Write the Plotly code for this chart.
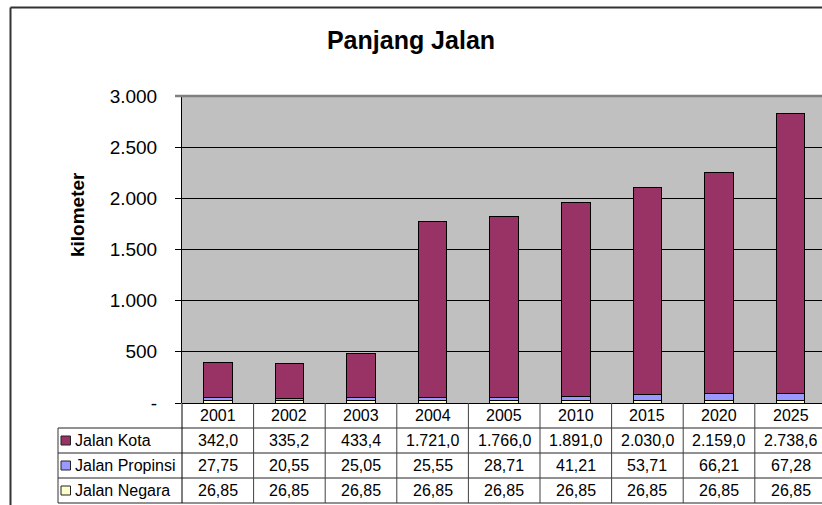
import plotly.graph_objects as go

# --- data -------------------------------------------------------------
years = ["2001", "2002", "2003", "2004", "2005", "2010", "2015", "2020", "2025"]
jalan_kota = [342.0, 335.2, 433.4, 1721.0, 1766.0, 1891.0, 2030.0, 2159.0, 2738.6]
jalan_propinsi = [27.75, 20.55, 25.05, 25.55, 28.71, 41.21, 53.71, 66.21, 67.28]
jalan_negara = [26.85, 26.85, 26.85, 26.85, 26.85, 26.85, 26.85, 26.85, 26.85]

series_names = ["Jalan Kota", "Jalan Propinsi", "Jalan Negara"]
series_values = [jalan_kota, jalan_propinsi, jalan_negara]
series_decimals = [1, 2, 2]
series_colors = ["#993366", "#9999FF", "#FFFFCC"]

y_tickvals = [0, 500, 1000, 1500, 2000, 2500, 3000]
y_ticktext = ["-", "500", "1.000", "1.500", "2.000", "2.500", "3.000"]

# --- geometry ---------------------------------------------------------
W, H = 822, 505
ML, MT, MB = 182, 96, 102
PW, PH = W - ML, H - MT - MB
COL_W = 71.6
X_MAX = -0.5 + PW / COL_W
ROW_H = 25
FONT = "Liberation Sans, Arial, sans-serif"


def px_x(px):
    return (px - ML) / PW


def px_y(py):
    return (H - MB - py) / PH


def col_edge(k):
    # paper x of the boundary left of category k
    return k / (X_MAX + 0.5)


def id_num(v, dec):
    s = f"{v:,.{dec}f}"
    return s.replace(",", "#").replace(".", ",").replace("#", ".")


fig = go.Figure()

# stacked bars: national at the bottom, city on top
for name, vals, col in zip(reversed(series_names), reversed(series_values), reversed(series_colors)):
    fig.add_trace(go.Bar(
        x=years, y=vals, name=name,
        marker=dict(color=col, line=dict(color="black", width=1)),
        width=0.4, hoverinfo="skip",
    ))

shapes = []
annotations = []

# outer chart frame (left and top)
shapes.append(dict(type="line", xref="paper", yref="paper",
                   x0=px_x(10.5), x1=px_x(10.5), y0=px_y(7.5), y1=px_y(H + 5),
                   line=dict(color="#333333", width=2)))
shapes.append(dict(type="line", xref="paper", yref="paper",
                   x0=px_x(10.5), x1=px_x(W + 5), y0=px_y(7.5), y1=px_y(7.5),
                   line=dict(color="#333333", width=2)))

# grey top edge of plot area
shapes.append(dict(type="line", xref="paper", yref="paper",
                   x0=px_x(175), x1=1.01, y0=1, y1=1,
                   line=dict(color="#808080", width=2.5)))

# data table lines
table_top = H - MB
row_edges = [table_top + i * ROW_H for i in range(5)]
legend_left = 58
for i, ry in enumerate(row_edges[1:]):
    shapes.append(dict(type="line", xref="paper", yref="paper",
                       x0=px_x(legend_left), x1=1.01, y0=px_y(ry), y1=px_y(ry),
                       line=dict(color="#222222", width=1)))
# axis line continued through the table and legend column edge
shapes.append(dict(type="line", xref="paper", yref="paper",
                   x0=0, x1=0, y0=0, y1=px_y(row_edges[-1]),
                   line=dict(color="black", width=1)))
shapes.append(dict(type="line", xref="paper", yref="paper",
                   x0=px_x(legend_left), x1=px_x(legend_left),
                   y0=px_y(row_edges[1]), y1=px_y(row_edges[-1]),
                   line=dict(color="#333333", width=1)))
for k in range(1, len(years) + 1):
    xe = col_edge(k)
    if xe > 1.01:
        continue
    shapes.append(dict(type="line", xref="paper", yref="paper",
                       x0=xe, x1=xe, y0=0, y1=px_y(row_edges[-1]),
                       line=dict(color="#404040", width=1)))

# header row: categories
for k, yr in enumerate(years):
    xc = (col_edge(k) + col_edge(k + 1)) / 2
    annotations.append(dict(xref="paper", yref="paper", x=xc,
                            y=px_y(row_edges[0] + ROW_H / 2), text=yr, showarrow=False,
                            font=dict(family=FONT, size=16, color="black"),
                            xanchor="center", yanchor="middle"))

# value rows with legend keys
for r, (name, vals, dec, col) in enumerate(zip(series_names, series_values,
                                                series_decimals, series_colors)):
    yc = row_edges[r + 1] + ROW_H / 2
    shapes.append(dict(type="rect", xref="paper", yref="paper",
                       x0=px_x(61), x1=px_x(70.5), y0=px_y(yc - 4.5), y1=px_y(yc + 4.5),
                       fillcolor=col, line=dict(color="#222222", width=1)))
    annotations.append(dict(xref="paper", yref="paper", x=px_x(73), y=px_y(yc),
                            text=name, showarrow=False,
                            font=dict(family=FONT, size=16, color="black"),
                            xanchor="left", yanchor="middle"))
    for k, v in enumerate(vals):
        xc = (col_edge(k) + col_edge(k + 1)) / 2
        annotations.append(dict(xref="paper", yref="paper", x=xc, y=px_y(yc),
                                text=id_num(v, dec), showarrow=False,
                                font=dict(family=FONT, size=16, color="black"),
                                xanchor="center", yanchor="middle"))

# y-axis title
annotations.append(dict(xref="paper", yref="paper", x=px_x(77), y=px_y(215),
                        text="<b>kilometer</b>", textangle=-90, showarrow=False,
                        font=dict(family=FONT, size=19, color="black"),
                        xanchor="center", yanchor="middle"))

fig.update_layout(
    width=W, height=H,
    margin=dict(l=ML, r=0, t=MT, b=MB, pad=0),
    paper_bgcolor="white", plot_bgcolor="#C0C0C0",
    barmode="stack", bargap=0.6, showlegend=False,
    title=dict(text="<b>Panjang Jalan</b>", x=411 / W, xanchor="center",
               y=1 - 40 / H, yanchor="middle", yref="container",
               font=dict(family=FONT, size=25, color="black")),
    xaxis=dict(type="category", range=[-0.5, X_MAX], showticklabels=False,
               showgrid=False, ticks="", showline=False, zeroline=False, fixedrange=True),
    yaxis=dict(range=[0, 3000], tickvals=y_tickvals, ticktext=y_ticktext,
               ticks="outside", ticklen=6, tickcolor="black", tickwidth=1,
               showgrid=True, gridcolor="black", gridwidth=1,
               showline=True, linecolor="black", linewidth=1,
               zeroline=True, zerolinecolor="black", zerolinewidth=1,
               tickfont=dict(family=FONT, size=19, color="black"),
               ticklabelstandoff=14, fixedrange=True),
    shapes=shapes, annotations=annotations,
)

fig.write_html("out.html", config={"displayModeBar": False})
